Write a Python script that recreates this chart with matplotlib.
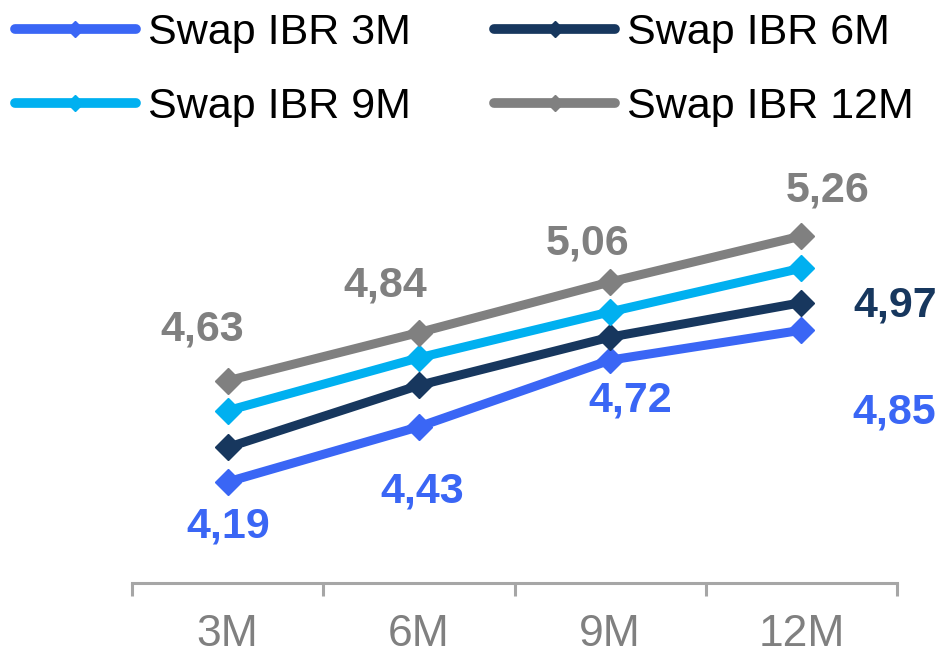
import matplotlib
matplotlib.use("Agg")
import matplotlib.pyplot as plt
import numpy as np

plt.rcParams['font.family'] = ['Liberation Sans', 'DejaVu Sans']

categories = ["3M", "6M", "9M", "12M"]
series_names = ["Swap IBR 3M", "Swap IBR 6M", "Swap IBR 9M", "Swap IBR 12M"]
swap_3m = [4.19, 4.43, 4.72, 4.85]
swap_6m = [4.34, 4.61, 4.82, 4.97]
swap_9m = [4.50, 4.73, 4.93, 5.12]
swap_12m = [4.63, 4.84, 5.06, 5.26]
colors = ["#3A66F5", "#17375E", "#00B0F0", "#808080"]

fig = plt.figure(figsize=(9.52, 6.53), dpi=100)
ax = fig.add_axes([0.1387, 0.1072, 0.8035, 0.651])

x = np.arange(len(categories)) + 0.5
all_series = [swap_3m, swap_6m, swap_9m, swap_12m]
lines = []
for vals, name, c in zip(all_series, series_names, colors):
    ln, = ax.plot(x, vals, color=c, lw=6.5, marker='D', markersize=13,
                  solid_capstyle='round', label=name)
    lines.append(ln)

ax.set_xlim(0, 4)
ax.set_ylim(3.75, 5.6)

# data labels (offsets in pixels)
lbl_kw = dict(textcoords='offset pixels', ha='center', va='center',
              fontsize=31, fontweight='bold')
offs_12m = [(-25, 51), (-34, 47), (-23, 38), (26, 46)]
for xi, v, o in zip(x, swap_12m, offs_12m):
    ax.annotate(f"{v:.2f}".replace('.', ','), (xi, v), xytext=o,
                color=colors[3], **lbl_kw)
offs_3m = [(1, -45), (3, -65), (20, -40), (93, -82)]
for xi, v, o in zip(x, swap_3m, offs_3m):
    ax.annotate(f"{v:.2f}".replace('.', ','), (xi, v), xytext=o,
                color=colors[0], **lbl_kw)
ax.annotate(f"{swap_6m[-1]:.2f}".replace('.', ','), (x[-1], swap_6m[-1]),
            xytext=(94, -3), color=colors[1], **lbl_kw)

# axes styling
for s in ['top', 'right', 'left']:
    ax.spines[s].set_visible(False)
ax.spines['bottom'].set_color('#A6A6A6')
ax.spines['bottom'].set_linewidth(2.2)
ax.set_yticks([])
ax.set_xticks(np.arange(0, 5))
ax.set_xticklabels([])
ax.tick_params(axis='x', which='major', length=9, width=2.2, color='#A6A6A6',
               direction='out')
ax.set_xticks(x, minor=True)
ax.set_xticklabels(categories, minor=True)
ax.tick_params(axis='x', which='minor', length=0, labelsize=32,
               labelcolor='#808080', pad=22)

# legend filled row by row: 3M, 6M / 9M, 12M
order = [0, 2, 1, 3]
leg = fig.legend([lines[i] for i in order], [series_names[i] for i in order],
                 loc='upper left', bbox_to_anchor=(15 / 952, 0.98), ncol=2,
                 frameon=False, fontsize=31, handlelength=2.8,
                 handletextpad=0.28, columnspacing=1.95, labelspacing=0.78,
                 borderpad=0, borderaxespad=0)
for h in leg.legend_handles:
    h.set_markersize(8)
    h.set_linewidth(7)

fig.savefig("out.png", dpi=100)
